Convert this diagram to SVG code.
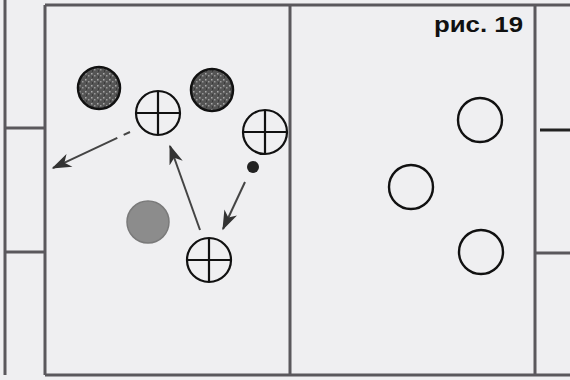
<svg xmlns="http://www.w3.org/2000/svg" width="570" height="380" viewBox="0 0 570 380">
<defs>
<style>
.field{fill:none;stroke:#5a585c;stroke-width:3}
.cross circle{fill:none;stroke:#111;stroke-width:2.2}
.cross path{stroke:#111;stroke-width:2.2;fill:none}
.open{fill:none;stroke:#111;stroke-width:2.4}
.dark{fill:url(#speckle);stroke:#111;stroke-width:2.5}
.arrow{stroke:#444;stroke-width:2;fill:none;marker-end:url(#ah)}
.label{font-family:"Liberation Sans",Arial,sans-serif;font-weight:bold;font-size:22px;fill:#111}
</style>
<pattern id="speckle" width="6" height="6" patternUnits="userSpaceOnUse">
<rect width="6" height="6" fill="#555"/>
<rect x="1" y="1" width="1.5" height="1.5" fill="#aaa"/>
<rect x="4" y="3" width="1.5" height="1.5" fill="#999"/>
<rect x="2" y="4.5" width="1" height="1" fill="#222"/>
</pattern>
<marker id="ah" viewBox="0 0 14 10" refX="13" refY="5" markerWidth="10" markerHeight="7" orient="auto" markerUnits="strokeWidth">
<path d="M0,0 L14,5 L0,10 L4,5 Z" fill="#333"/>
</marker>
</defs>
<rect width="570" height="380" fill="#efeff1"/>
<g id="field">
<line class="field" x1="45" y1="5" x2="570" y2="5"/>
<line class="field" x1="5" y1="0" x2="5" y2="375"/>
<line class="field" x1="45" y1="5" x2="45" y2="375"/>
<line class="field" x1="45" y1="375" x2="570" y2="375"/>
<line class="field" x1="290" y1="5" x2="290" y2="375"/>
<line class="field" x1="535" y1="5" x2="535" y2="375"/>
<line class="field" x1="5" y1="128" x2="45" y2="128"/>
<line class="field" x1="5" y1="252" x2="45" y2="252"/>
<line class="field" x1="540" y1="130" x2="570" y2="130" style="stroke:#222"/>
<line class="field" x1="535" y1="253" x2="570" y2="253"/>
</g>
<g id="connectors">
<line class="arrow" x1="130" y1="132" x2="53" y2="168" style="stroke-dasharray:7 7 60"/>
<line class="arrow" x1="200" y1="230" x2="170" y2="146"/>
<line class="arrow" x1="245" y1="182" x2="223" y2="229"/>
</g>
<g id="d1"><circle class="dark" cx="99" cy="88" r="21"/></g>
<g id="d2"><circle class="dark" cx="212" cy="90" r="21"/></g>
<g id="x1" class="cross"><circle cx="158" cy="113" r="22"/><path d="M136,113H180M158,91V135"/></g>
<g id="x2" class="cross"><circle cx="265" cy="132" r="22"/><path d="M243,132H287M265,110V154"/></g>
<g id="dot"><circle cx="253" cy="167" r="6" fill="#222"/></g>
<g id="g1"><circle cx="148" cy="222" r="21" fill="#8c8c8c" stroke="#7a7a7a" stroke-width="1.5"/></g>
<g id="x3" class="cross"><circle cx="209" cy="260" r="22"/><path d="M187,260H231M209,238V282"/></g>
<g id="o1"><circle class="open" cx="480" cy="120" r="22"/></g>
<g id="o2"><circle class="open" cx="411" cy="187" r="22"/></g>
<g id="o3"><circle class="open" cx="481" cy="252" r="22"/></g>
<text class="label" x="434" y="32" textLength="89" lengthAdjust="spacingAndGlyphs">рис. 19</text>
</svg>
